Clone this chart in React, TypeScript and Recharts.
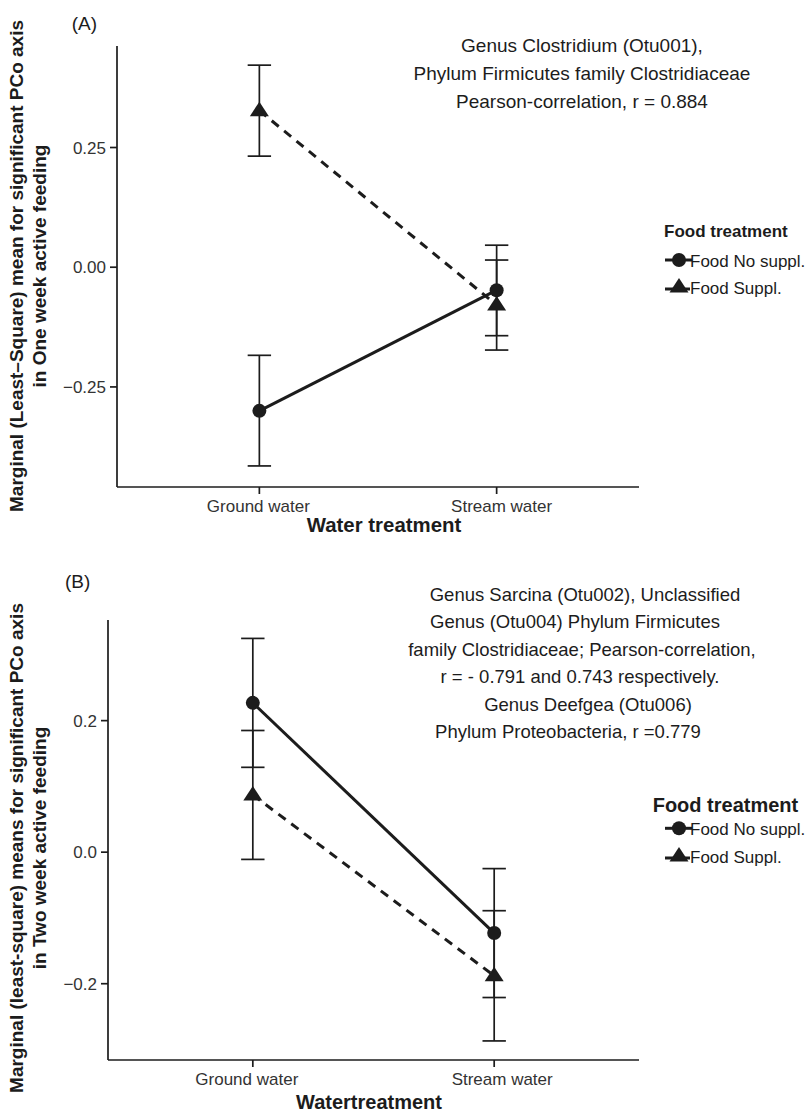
import React from "react";
import { LineChart, Line, XAxis, YAxis, ErrorBar } from "recharts";

// categories and series
const waterCategories = ["Ground water", "Stream water"];
const foodSeries = ["Food No suppl.", "Food Suppl."];

// (A) one week active feeding
const oneWeekNoSuppl = [-0.3, -0.048];
const oneWeekNoSupplLow = [-0.415, -0.143];
const oneWeekNoSupplHigh = [-0.184, 0.046];
const oneWeekSuppl = [0.327, -0.079];
const oneWeekSupplLow = [0.232, -0.173];
const oneWeekSupplHigh = [0.422, 0.015];
const oneWeekTicks = [-0.25, 0, 0.25];

// (B) two week active feeding
const twoWeekNoSuppl = [0.227, -0.123];
const twoWeekNoSupplLow = [0.129, -0.221];
const twoWeekNoSupplHigh = [0.325, -0.025];
const twoWeekSuppl = [0.087, -0.188];
const twoWeekSupplLow = [-0.011, -0.287];
const twoWeekSupplHigh = [0.185, -0.089];
const twoWeekTicks = [-0.2, 0, 0.2];

const annotationA = [
  "Genus Clostridium (Otu001),",
  "Phylum Firmicutes family Clostridiaceae",
  "Pearson-correlation, r = 0.884",
];
const annotationB = [
  "Genus Sarcina (Otu002), Unclassified",
  "Genus (Otu004) Phylum Firmicutes",
  "family Clostridiaceae; Pearson-correlation,",
  "r = - 0.791 and 0.743 respectively.",
  "Genus Deefgea (Otu006)",
  "Phylum Proteobacteria, r =0.779",
];

const INK = "#1c1c1c";
const FONT = '"Liberation Sans", Arial, Helvetica, sans-serif';

function buildRows(
  mA: number[], loA: number[], hiA: number[],
  mB: number[], loB: number[], hiB: number[]
) {
  return waterCategories.map((name, i) => ({
    pos: i + 1,
    name,
    noSuppl: mA[i],
    noSupplErr: [mA[i] - loA[i], hiA[i] - mA[i]],
    suppl: mB[i],
    supplErr: [mB[i] - loB[i], hiB[i] - mB[i]],
  }));
}

const rowsA = buildRows(oneWeekNoSuppl, oneWeekNoSupplLow, oneWeekNoSupplHigh, oneWeekSuppl, oneWeekSupplLow, oneWeekSupplHigh);
const rowsB = buildRows(twoWeekNoSuppl, twoWeekNoSupplLow, twoWeekNoSupplHigh, twoWeekSuppl, twoWeekSupplLow, twoWeekSupplHigh);

const minus = (s: string) => s.replace("-", "\u2212");

const circleDot = (p: any) => (
  <circle key={`c${p.index}`} cx={p.cx} cy={p.cy} r={7} fill={INK} />
);
const triangleDot = (p: any) => (
  <polygon
    key={`t${p.index}`}
    points={`${p.cx},${p.cy - 9} ${p.cx + 9.5},${p.cy + 5.5} ${p.cx - 9.5},${p.cy + 5.5}`}
    fill={INK}
  />
);

function makeXTick(offsets: number[]) {
  return (props: any) => {
    const { x, y, payload } = props;
    const i = payload.value - 1;
    return (
      <text x={x + (offsets[i] || 0)} y={y} dy="0.71em" textAnchor="middle" fontSize={17} fill="#333" fontFamily={FONT}>
        {waterCategories[i]}
      </text>
    );
  };
}

type PanelProps = {
  rows: any[];
  height: number;
  top: number;
  yWidth: number;
  domain: [number, number];
  ticks: number[];
  digits: number;
  xOffsets: number[];
  marginTop: number;
  marginBottom: number;
};

function Panel({ rows, height, top, yWidth, domain, ticks, digits, xOffsets, marginTop, marginBottom }: PanelProps) {
  const axisStyle = { stroke: INK, strokeWidth: 1.7 };
  return (
    <div style={{ position: "absolute", left: 0, top, width: 700, height }}>
      <LineChart width={700} height={height} data={rows} margin={{ top: marginTop, right: 61, bottom: marginBottom, left: 0 }}>
        <XAxis
          dataKey="pos"
          type="number"
          domain={[0.4, 2.6]}
          ticks={[1, 2]}
          height={40}
          tickSize={7}
          tickMargin={6}
          axisLine={axisStyle}
          tickLine={axisStyle}
          tick={makeXTick(xOffsets)}
        />
        <YAxis
          type="number"
          domain={domain}
          allowDataOverflow
          ticks={ticks}
          width={yWidth}
          tickSize={7}
          tickMargin={4}
          axisLine={axisStyle}
          tickLine={axisStyle}
          tick={{ fontSize: 17, fill: "#333", fontFamily: FONT }}
          tickFormatter={(v: number) => minus(v.toFixed(digits))}
        />
        <Line
          dataKey="noSuppl"
          name={foodSeries[0]}
          type="linear"
          stroke={INK}
          strokeWidth={3}
          dot={circleDot}
          activeDot={false}
          isAnimationActive={false}
        >
          <ErrorBar dataKey="noSupplErr" width={11.7} stroke={INK} strokeWidth={1.7} direction="y" />
        </Line>
        <Line
          dataKey="suppl"
          name={foodSeries[1]}
          type="linear"
          stroke={INK}
          strokeWidth={3}
          strokeDasharray="9 7"
          dot={triangleDot}
          activeDot={false}
          isAnimationActive={false}
        >
          <ErrorBar dataKey="supplErr" width={11.7} stroke={INK} strokeWidth={1.7} direction="y" />
        </Line>
      </LineChart>
    </div>
  );
}

function LegendBlock({ x, titleY, titleSize, circleY, triY }: { x: number; titleY: number; titleSize: number; circleY: number; triY: number }) {
  return (
    <g fontFamily={FONT} fill={INK}>
      <text x={x} y={titleY} fontSize={titleSize} fontWeight="bold">Food treatment</text>
      <line x1={665} x2={692} y1={circleY} y2={circleY} stroke={INK} strokeWidth={3} />
      <circle cx={679} cy={circleY} r={7} fill={INK} />
      <text x={690} y={circleY + 6.7} fontSize={17}>{foodSeries[0]}</text>
      <line x1={665} x2={692} y1={triY + 3} y2={triY + 3} stroke={INK} strokeWidth={3} strokeDasharray="9 7" />
      <polygon points={`679,${triY - 8} 688.5,${triY + 6.5} 669.5,${triY + 6.5}`} fill={INK} />
      <text x={690} y={triY + 8} fontSize={17}>{foodSeries[1]}</text>
    </g>
  );
}

export default function App() {
  return (
    <div style={{ position: "absolute", left: 0, top: 0, width: 809, height: 1115, background: "#fff", overflow: "hidden" }}>
      <Panel
        rows={rowsA}
        height={560}
        top={0}
        yWidth={117}
        domain={[-0.459, 0.462]}
        ticks={oneWeekTicks}
        digits={2}
        xOffsets={[-1, 5]}
        marginTop={46}
        marginBottom={33}
      />
      <Panel
        rows={rowsB}
        height={555}
        top={560}
        yWidth={108}
        domain={[-0.316, 0.353]}
        ticks={twoWeekTicks}
        digits={1}
        xOffsets={[-6, 8]}
        marginTop={60}
        marginBottom={15}
      />
      <svg width={809} height={1115} style={{ position: "absolute", left: 0, top: 0, pointerEvents: "none" }}>
        <g fontFamily={FONT} fill={INK}>
          <text x={71.7} y={29.5} fontSize={19}>(A)</text>
          <text x={65} y={588} fontSize={19}>(B)</text>

          {annotationA.map((t, i) => (
            <text key={t} x={582} y={52.3 + i * 27.7} fontSize={19} textAnchor="middle">{t}</text>
          ))}
          {annotationB.map((t, i) => (
            <text key={t} x={[585, 575, 582, 580, 588, 568][i]} y={601 + i * 27.46} fontSize={18.5} textAnchor="middle">{t}</text>
          ))}

          <text x={22.7} y={266} transform="rotate(-90 22.7 266)" textAnchor="middle" fontSize={19} fontWeight="bold">
            Marginal (Least–Square) mean for significant PCo axis
          </text>
          <text x={46} y={266} transform="rotate(-90 46 266)" textAnchor="middle" fontSize={19} fontWeight="bold">
            in One week active feeding
          </text>
          <text x={22.7} y={848} transform="rotate(-90 22.7 848)" textAnchor="middle" fontSize={19} fontWeight="bold">
            Marginal (least-square) means for significant PCo axis
          </text>
          <text x={46} y={848} transform="rotate(-90 46 848)" textAnchor="middle" fontSize={19} fontWeight="bold">
            in Two week active feeding
          </text>

          <text x={384} y={531.5} fontSize={20.4} fontWeight="bold" textAnchor="middle">Water treatment</text>
          <text x={369} y={1109} fontSize={20} fontWeight="bold" textAnchor="middle">Watertreatment</text>
        </g>
        <LegendBlock x={664} titleY={237.3} titleSize={17} circleY={260} triY={286} />
        <LegendBlock x={652.7} titleY={811.7} titleSize={20} circleY={828.3} triY={855} />
      </svg>
    </div>
  );
}
